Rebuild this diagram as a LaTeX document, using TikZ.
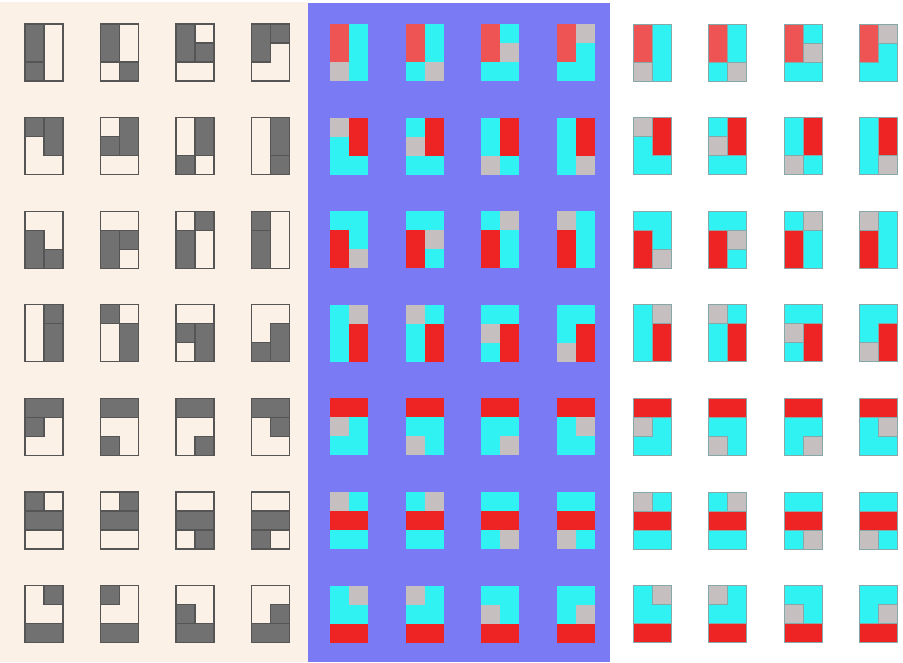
\documentclass[tikz,border=0pt]{standalone}
\usepackage{tikz}
\usepackage{xcolor}
\definecolor{paper}{HTML}{FBF1E6}
\definecolor{slate}{HTML}{7A7AF4}
\definecolor{ink}{HTML}{555555}
\definecolor{shade}{HTML}{717171}
\definecolor{aqua}{HTML}{30F2F2}
\definecolor{brick}{HTML}{EE2424}
\definecolor{salmon}{HTML}{EE5454}
\definecolor{stone}{HTML}{C6BFBF}
\definecolor{rim}{HTML}{86A8A8}
\tikzset{
  greybase/.style={fill=paper, draw=ink, line width=1.3pt},
  greypiece/.style={fill=shade, draw=ink, line width=1.1pt},
  flatbase/.style={fill=aqua},
  flatdomino/.style={fill=\tone},
  flatsquare/.style={fill=stone},
  rimbase/.style={fill=aqua, draw=rim, line width=0.7pt},
  rimdomino/.style={fill=\tone, draw=rim, line width=0.7pt},
  rimsquare/.style={fill=stone, draw=rim, line width=0.7pt}
}
% one panel: x offset, base style, domino style, square style
\newcommand{\tilepanel}[4]{%
  \foreach \r/\ax/\ay/\bx/\by/\tone/\sqs in {
      0/0/0/1/2/salmon/{0/2,1/2,1/1,1/0},
      1/1/0/2/2/brick/{0/0,0/1,0/2,1/2},
      2/0/1/1/3/brick/{1/2,1/1,1/0,0/0},
      3/1/1/2/3/brick/{1/0,0/0,0/1,0/2},
      4/0/0/2/1/brick/{0/1,0/2,1/2,1/1},
      5/0/1/2/2/brick/{0/0,1/0,1/2,0/2},
      6/0/2/2/3/brick/{1/0,0/0,0/1,1/1}} {
    \foreach \sx/\sy [count=\c from 0] in \sqs {
      \begin{scope}[shift={({#1+75.5*\c},{24+93.6*\r})}]
        \path[#2] (0,0) rectangle (38,57);
        \path[#3] ({19*\ax},{19*\ay}) rectangle ({19*\bx},{19*\by});
        \path[#4] ({19*\sx},{19*\sy}) rectangle ({19*\sx+19},{19*\sy+19});
      \end{scope}
    }
  }%
}
\begin{document}
\begin{tikzpicture}[x=1pt,y=-1pt]
  \useasboundingbox (0,0) rectangle (903,662);
  % backgrounds
  \fill[white] (0,0) rectangle (903,662);
  \fill[paper] (0,2) rectangle (308,662);
  \fill[slate] (308,3) rectangle (610,662);
  % the three panels
  \tilepanel{25}{greybase}{greypiece}{greypiece}
  \tilepanel{330}{flatbase}{flatdomino}{flatsquare}
  \tilepanel{633}{rimbase}{rimdomino}{rimsquare}
\end{tikzpicture}
\end{document}
